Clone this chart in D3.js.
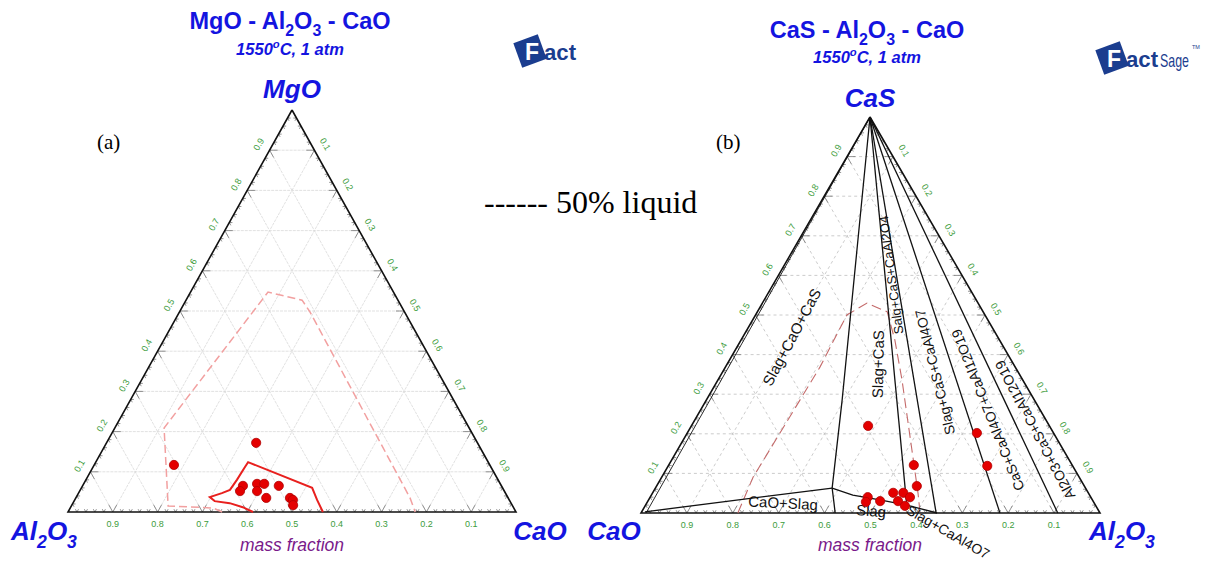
<!DOCTYPE html>
<html><head><meta charset="utf-8">
<script src="https://cdn.jsdelivr.net/npm/d3@7"></script>
<style>body{margin:0;background:#fff} text{white-space:pre}</style>
</head><body>
<svg id="c" width="1205" height="565" xmlns="http://www.w3.org/2000/svg"></svg>
<script>
// ---------- shared axis ticks ----------
const tickValues = [0.1,0.2,0.3,0.4,0.5,0.6,0.7,0.8,0.9];
const tickLabels = ["0.1","0.2","0.3","0.4","0.5","0.6","0.7","0.8","0.9"];

// ---------- panel (a): [MgO, Al2O3, CaO] mass fractions ----------
const aCorners = ["MgO","Al2O3","CaO"];
const aRegionSolid = [
  [0,0.587,0.413],[0.012,0.604,0.384],[0.022,0.628,0.350],[0.027,0.659,0.314],[0.037,0.665,0.298],
  [0.047,0.633,0.320],[0.055,0.611,0.334],[0.080,0.583,0.337],[0.112,0.549,0.339],[0.124,0.536,0.340],
  [0.060,0.425,0.515],[0.030,0.429,0.541],[0,0.431,0.569]
];
const aLiquid50 = [
  [0,0.656,0.344],[0.010,0.671,0.319],[0.015,0.769,0.216],[0.209,0.681,0.110],[0.547,0.280,0.173],
  [0.527,0.214,0.259],[0.498,0.211,0.291],[0.035,0.219,0.746],[0,0.225,0.775]
];
const aPoints = [
  [0.172,0.494,0.334],[0.117,0.705,0.178],[0.065,0.577,0.358],[0.052,0.590,0.358],[0.070,0.543,0.387],
  [0.070,0.527,0.403],[0.052,0.552,0.396],[0.065,0.497,0.438],[0.035,0.540,0.425],[0.035,0.487,0.478],
  [0.030,0.483,0.487],[0.017,0.489,0.494]
];

// ---------- panel (b): [CaS, CaO, Al2O3] mass fractions ----------
const bCorners = ["CaS","CaO","Al2O3"];
const bLiquid50 = [
  [0,0.789,0.211],[0.091,0.710,0.199],[0.202,0.596,0.202],[0.369,0.425,0.206],[0.500,0.301,0.199],
  [0.530,0.242,0.228],[0.508,0.209,0.283],[0.437,0.228,0.335],[0.336,0.263,0.401],[0.051,0.371,0.578],[0,0.392,0.608]
];
const bLineCaOCaS = [[1,0,0],[0,0.989,0.011]];
const bLine1 = [[1,0,0],[0.563,0.256,0.181],[0.285,0.419,0.296],[0.063,0.552,0.385],[0.030,0.565,0.405],[0,0.577,0.423]];
const bLine2 = [[1,0,0],[0.020,0.411,0.569]];
const bLine3 = [[1,0,0],[0,0.357,0.643]];
const bLine4 = [[1,0,0],[0,0.218,0.782]];
const bLine5 = [[1,0,0],[0,0.092,0.908]];
const bCaOSlag = [[0.003,0.990,0.007],[0.063,0.552,0.385]];
const bSlagEdge = [[0.063,0.552,0.385],[0.045,0.516,0.439],[0.033,0.463,0.504],[0.020,0.411,0.569],[0,0.355,0.645]];
const bPoints = [
  [0.220,0.395,0.385],[0.121,0.345,0.534],[0.068,0.365,0.567],[0.051,0.425,0.524],[0.051,0.403,0.546],
  [0.040,0.394,0.566],[0.040,0.486,0.474],[0.030,0.464,0.506],[0.028,0.496,0.476],[0.030,0.425,0.545],
  [0.018,0.416,0.566],[0.202,0.167,0.631],[0.119,0.186,0.695]
];
const bPhaseNames = ["Slag+CaO+CaS","Slag+CaS","Salg+CaS+CaAl2O4","Slag+CaS+CaAl4O7",
  "CaS+CaAl4O7+CaAl12O19","Al2O3+CaS+CaAl12O19","CaO+Slag","Slag","Slag+CaAl4O7"];
const bPhaseAt = [
  [0.444,0.449,0.107],[0.376,0.295,0.329],[0.601,0.154,0.245],[0.356,0.181,0.463],
  [0.260,0.114,0.626],[0.210,0.036,0.754],[0.025,0.678,0.297],[0.005,0.496,0.499],[-0.048,0.355,0.693]
];

// ---------- rendering ----------
const svg = d3.select("#c");
const BLUE = "#1414e0", GREEN = "#3c9c3c", PURPLE = "#7a1a8a", NAVY = "#1b3d8f";

function makeTernary(P, L, R) {
  const yS = d3.scaleLinear().domain([0,1]).range([L[1], P[1]]);
  const xS = d3.scaleLinear().domain([0,1]).range([L[0], R[0]]);
  const k = (P[0]-L[0])/(R[0]-L[0]);
  const f = c => [xS(c[2] + c[0]*k), yS(c[0])];
  f.line = d3.line().x(d => f(d)[0]).y(d => f(d)[1]);
  return f;
}

function rich(sel, parts, fs) {
  let cur = 0;
  parts.forEach(p => {
    const [s, t] = typeof p === "string" ? [p, "n"] : p;
    const target = t === "sub" ? 0.3*fs : t === "sup" ? -0.42*fs : 0;
    const ts = sel.append("tspan").text(s);
    if (target - cur !== 0) ts.attr("dy", target - cur);
    if (t !== "n") ts.attr("font-size", fs*0.68);
    cur = target;
  });
}
function chemParts(name) {
  return name === "Al2O3" ? ["Al",["2","sub"],"O",["3","sub"]] : [name];
}

function drawFrame(g, T, grid) {
  const gl = g.append("g").attr("fill","none").attr("stroke",grid.color)
    .attr("stroke-width",grid.width).attr("stroke-dasharray",grid.dash);
  tickValues.forEach(v => {
    [[[v,1-v,0],[v,0,1-v]], [[0,1-v,v],[1-v,0,v]], [[0,v,1-v],[1-v,v,0]]]
      .forEach(seg => gl.append("path").attr("d", T.line(seg)));
  });
  const tk = g.append("g").attr("stroke","#777").attr("stroke-width",0.8).attr("fill","none");
  for (let i = 1; i < 50; i++) {
    const t = i/50, d = (i % 5 === 0) ? 0.018 : 0.007;
    const segs = [
      [[0,t,1-t],[d,t,1-t-d]], [[0,t,1-t],[d,t-d,1-t]],
      [[t,1-t,0],[t,1-t-d,d]], [[t,1-t,0],[t-d,1-t,d]],
      [[t,0,1-t],[t,d,1-t-d]], [[t,0,1-t],[t-d,d,1-t]]
    ];
    segs.forEach(s => tk.append("path").attr("d", T.line(s)));
  }
  g.append("path").attr("d", T.line([[1,0,0],[0,1,0],[0,0,1],[1,0,0]]) )
    .attr("fill","none").attr("stroke","#111").attr("stroke-width",1.6);
  const lab = g.append("g").attr("fill",GREEN).attr("font-family","Liberation Sans, Arial")
    .attr("font-size",9).attr("text-anchor","middle");
  tickValues.forEach((v,i) => {
    const b = T([0,v,1-v]);
    lab.append("text").attr("x",b[0]).attr("y",b[1]+15).text(tickLabels[i]);
    const l = T([v,1-v,0]);
    lab.append("text").attr("transform",`translate(${l[0]-11},${l[1]-6}) rotate(-60)`)
      .attr("dy","0.35em").text(tickLabels[i]);
    const r = T([1-v,0,v]);
    lab.append("text").attr("transform",`translate(${r[0]+11},${r[1]-6}) rotate(60)`)
      .attr("dy","0.35em").text(tickLabels[i]);
  });
}

function drawDots(g, T, pts) {
  g.append("g").selectAll("circle").data(pts).join("circle")
    .attr("cx", d => T(d)[0]).attr("cy", d => T(d)[1]).attr("r", 4.6)
    .attr("fill","#e40000").attr("stroke","#b00000").attr("stroke-width",0.8);
}

function titleBlock(cx, yTitle, ySub, parts) {
  const t = svg.append("text").attr("x",cx).attr("y",yTitle).attr("text-anchor","middle")
    .attr("font-family","Liberation Sans, Arial").attr("font-weight","bold").attr("font-size",23.5).attr("fill",BLUE);
  rich(t, parts, 23.5);
  const s = svg.append("text").attr("x",cx).attr("y",ySub).attr("text-anchor","middle")
    .attr("font-family","Liberation Sans, Arial").attr("font-weight","bold").attr("font-style","italic")
    .attr("font-size",16.5).attr("fill",BLUE);
  rich(s, ["1550",["o","sup"],"C, 1 atm"], 16.5);
}
function cornerLabel(x, y, name, anchor) {
  const t = svg.append("text").attr("x",x).attr("y",y).attr("text-anchor",anchor)
    .attr("font-family","Liberation Sans, Arial").attr("font-weight","bold").attr("font-style","italic")
    .attr("font-size",26).attr("fill",BLUE);
  rich(t, chemParts(name), 26);
}
function massFraction(x, y) {
  svg.append("text").attr("x",x).attr("y",y).attr("text-anchor","middle")
    .attr("font-family","Liberation Sans, Arial").attr("font-style","italic").attr("font-size",17.5)
    .attr("fill",PURPLE).text("mass fraction");
}
function logo(x, y, withSage) {
  const g = svg.append("g").attr("transform",`translate(${x},${y})`);
  g.append("rect").attr("x",-13).attr("y",-13).attr("width",26).attr("height",26)
    .attr("transform","rotate(-20)").attr("fill",NAVY);
  g.append("text").attr("x",-5).attr("y",9).attr("font-family","Liberation Sans, Arial")
    .attr("font-weight","bold").attr("font-size",23).attr("fill","#fff").text("F");
  g.append("text").attr("x",14).attr("y",9).attr("font-family","Liberation Sans, Arial")
    .attr("font-weight","bold").attr("font-size",22).attr("fill",NAVY)
    .attr("textLength",32).attr("lengthAdjust","spacingAndGlyphs").text("act");
  if (withSage) {
    g.append("text").attr("x",48).attr("y",9).attr("font-family","Liberation Sans, Arial")
      .attr("font-size",19).attr("fill",NAVY)
      .attr("textLength",29).attr("lengthAdjust","spacingAndGlyphs").text("Sage");
    g.append("text").attr("x",80).attr("y",-9).attr("font-family","Liberation Sans, Arial")
      .attr("font-size",5.5).attr("fill",NAVY).text("TM");
  }
}

// ----- panel (a)
const TA = makeTernary([292,110],[68,512],[516,512]);
const gA = svg.append("g");
drawFrame(gA, TA, {color:"#d9d9d9", width:0.8, dash:"3,1"});
gA.append("path").attr("d", TA.line(aLiquid50)).attr("fill","none").attr("stroke","#f2a0a0")
  .attr("stroke-width",1.5).attr("stroke-dasharray","8,4");
gA.append("path").attr("d", TA.line(aRegionSolid)).attr("fill","none").attr("stroke","#e8201e")
  .attr("stroke-width",2);
drawDots(gA, TA, aPoints);

titleBlock(290, 29, 55, ["MgO - Al",["2","sub"],"O",["3","sub"]," - CaO"]);
cornerLabel(292, 98, aCorners[0], "middle");
cornerLabel(44, 540, aCorners[1], "middle");
cornerLabel(540, 540, aCorners[2], "middle");
massFraction(292, 551);
svg.append("text").attr("x",97).attr("y",149).attr("font-family","Liberation Serif, Times New Roman")
  .attr("font-size",21).text("(a)");
logo(530, 51, false);

// ----- panel (b)
const TB = makeTernary([870,117],[641,513],[1100,513]);
const gB = svg.append("g");
drawFrame(gB, TB, {color:"#bfbfbf", width:0.8, dash:"3,3"});
gB.append("path").attr("d", TB.line(bLiquid50)).attr("fill","none")
  .attr("stroke","#c46a6a").attr("stroke-width",1.1).attr("stroke-dasharray","10,5");
[bLineCaOCaS, bLine1, bLine2, bLine3, bLine4, bLine5, bCaOSlag, bSlagEdge].forEach((ln,i) => {
  gB.append("path").attr("d", TB.line(ln)).attr("fill","none").attr("stroke","#111")
    .attr("stroke-width", i === 0 ? 0.9 : 1.3);
});
const bAngles = [-62,-89,-97.5,-104,-112,-118,3,5,30];
const bSizes = [15,15,13,14,14,14,15,15,14];
bPhaseNames.forEach((n,i) => {
  const p = TB(bPhaseAt[i]);
  gB.append("text").attr("transform",`translate(${p[0]},${p[1]}) rotate(${bAngles[i]})`)
    .attr("text-anchor","middle").attr("dy","0.35em").attr("font-family","Liberation Sans, Arial")
    .attr("font-size",bSizes[i]).attr("fill","#111").text(n);
});
drawDots(gB, TB, bPoints);

titleBlock(867, 38, 63, ["CaS - Al",["2","sub"],"O",["3","sub"]," - CaO"]);
cornerLabel(870, 107, bCorners[0], "middle");
cornerLabel(614, 540, bCorners[1], "middle");
cornerLabel(1122, 540, bCorners[2], "middle");
massFraction(870, 551);
svg.append("text").attr("x",716).attr("y",149).attr("font-family","Liberation Serif, Times New Roman")
  .attr("font-size",21).text("(b)");
logo(1112, 58, true);

// legend
svg.append("text").attr("x",484).attr("y",213).attr("font-family","Liberation Serif, Times New Roman")
  .attr("font-size",32).attr("fill","#000").text("------ 50% liquid");
</script>
</body></html>
